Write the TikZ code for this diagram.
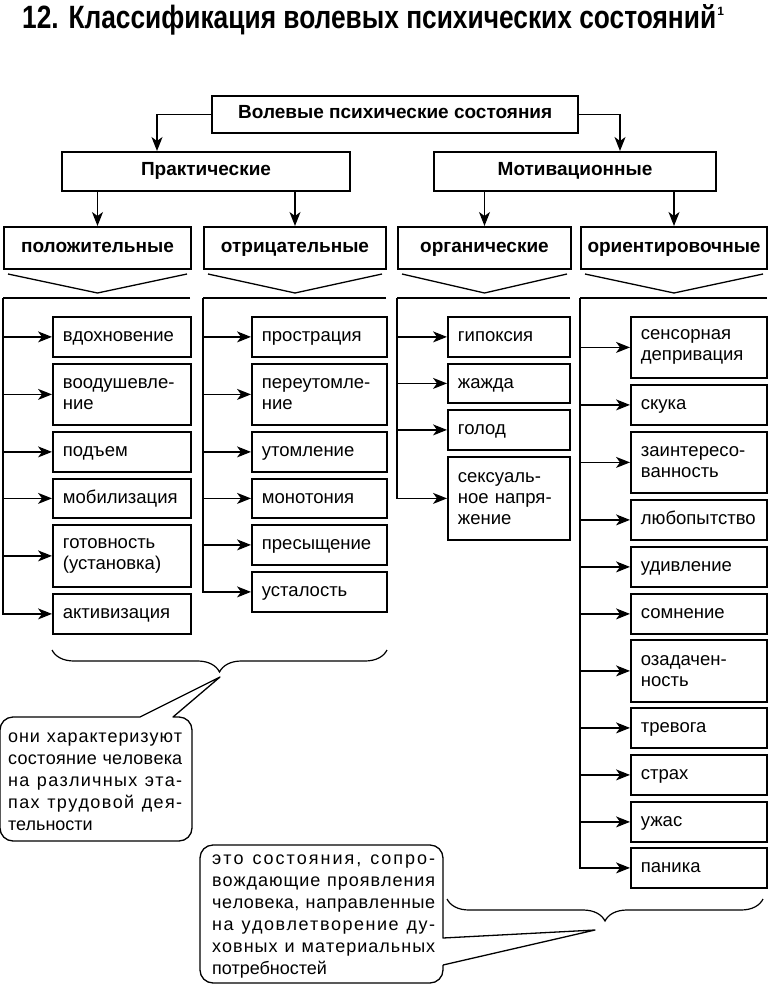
\documentclass[tikz,border=0pt]{standalone}
\usepackage{fontspec}
\setmainfont{Liberation Sans}
\usepackage{graphicx}
\usetikzlibrary{arrows.meta,calc,decorations.pathreplacing}
\newcommand{\itmfont}{\fontsize{18.5}{21}\selectfont}
\newcommand{\hdfont}{\bfseries\fontsize{19}{21}\selectfont}
% letter-spaced justified line
\newcommand{\lsp}[2]{\makebox[#1][s]{\lspfirst#2\relax}}
\def\lspfirst#1{#1\lsprest}
\def\lsprest#1{\ifx#1\relax\else\hskip 0pt plus 1fil\relax #1\expandafter\lsprest\fi}
\begin{document}
\begin{tikzpicture}[x=1pt,y=-1pt,
  hd/.style={draw, line width=2pt, anchor=north west, inner sep=0pt, font=\hdfont, text height=12pt, text depth=3.6pt},
  itm/.style={draw, line width=1.8pt, anchor=north west, inner xsep=10pt, inner ysep=0pt, align=left, font=\itmfont, minimum height=40pt},
  sl/.style={text height=12.5pt, text depth=3pt},
  ca/.style={itm, text width=118pt},
  cb/.style={itm, text width=115pt},
  cc/.style={itm, text width=102pt},
  cd/.style={itm, text width=116pt},
  conn/.style={line width=1.3pt},
  arr/.style={conn, -{Stealth[length=14pt,width=11pt,inset=4pt]}},
  chev/.style={line width=1.3pt},
  brc/.style={decorate, decoration={brace, amplitude=22pt, mirror}, line width=1.2pt},
  bubble/.style={line width=1.3pt, line join=round},
  ctext/.style={anchor=north west, inner sep=0pt, align=left, font=\fontsize{18}{22}\selectfont}
]
\useasboundingbox (0,0) rectangle (768,987);

% title
\node[anchor=base west, inner sep=0pt] (title) at (22,29)
  {\resizebox{694pt}{24pt}{\bfseries 12. Классификация волевых психических состояний}\hspace{1pt}\raisebox{13pt}{\bfseries\fontsize{12}{12}\selectfont 1}};

% headers
\node[hd, minimum width=366pt, minimum height=37pt, line width=2.4pt] (top) at (211,95) {Волевые психические состояния};
\node[hd, minimum width=288pt, minimum height=39pt] (prakt) at (61,151) {Практические};
\node[hd, minimum width=282pt, minimum height=39pt] (motiv) at (433,151) {Мотивационные};
\node[hd, minimum width=187pt, minimum height=42pt] (pos) at (3,226) {положительные};
\node[hd, minimum width=182pt, minimum height=42pt] (neg) at (203,226) {отрицательные};
\node[hd, minimum width=173pt, minimum height=42pt] (org) at (397,226) {органические};
\node[hd, minimum width=186pt, minimum height=42pt] (ori) at (580,226) {ориентировочные};

\coordinate (lA) at (157,151);
\coordinate (rA) at (620,151);
\draw[arr] (top.west) -| (lA);
\draw[arr] (top.east) -| (rA);
\draw[arr] (prakt.south -| pos.north) -- (pos.north);
\draw[arr] (prakt.south -| neg.north) -- (neg.north);
\draw[arr] (motiv.south -| org.north) -- (org.north);
\draw[arr] (motiv.south -| ori.north) -- (ori.north);

\foreach \n in {pos,neg,org,ori}
  \draw[chev] ($(\n.south west)+(5,4)$) -- ($(\n.south)+(0,23)$) -- ($(\n.south east)+(-5,4)$);

% column 1
\node[ca, sl] (a1) at (52,316) {вдохновение};
\node[ca, minimum height=61pt] (a2) at (52,363) {воодушевле-\\ние};
\node[ca, sl] (a3) at (52,431) {подъем};
\node[ca, sl, minimum height=39pt] (a4) at (52,478) {мобилизация};
\node[ca, minimum height=62pt] (a5) at (52,524) {готовность\\(установка)};
\node[ca, sl] (a6) at (52,593) {активизация};
% column 2
\node[cb, sl] (b1) at (251,316) {прострация};
\node[cb, minimum height=61pt] (b2) at (251,363) {переутомле-\\ние};
\node[cb, sl] (b3) at (251,431) {утомление};
\node[cb, sl, minimum height=39pt] (b4) at (251,478) {монотония};
\node[cb, sl] (b5) at (251,524) {пресыщение};
\node[cb, sl] (b6) at (251,571) {усталость};
% column 3
\node[cc, sl] (c1) at (447,316) {гипоксия};
\node[cc, sl, minimum height=39pt] (c2) at (447,363) {жажда};
\node[cc, sl] (c3) at (447,409) {голод};
\node[cc, minimum height=83pt] (c4) at (447,456) {сексуаль-\\ное напря-\\жение};
% column 4
\node[cd, minimum height=61pt] (d1) at (630,316) {сенсорная\\депривация};
\node[cd, sl] (d2) at (630,384) {скука};
\node[cd, minimum height=61pt] (d3) at (630,431) {заинтересо-\\ванность};
\node[cd, sl] (d4) at (630,499) {любопытство};
\node[cd, sl] (d5) at (630,546) {удивление};
\node[cd, sl] (d6) at (630,593) {сомнение};
\node[cd, minimum height=62pt] (d7) at (630,639) {озадачен-\\ность};
\node[cd, sl] (d8) at (630,707) {тревога};
\node[cd, sl] (d9) at (630,754) {страх};
\node[cd, sl] (d10) at (630,801) {ужас};
\node[cd, sl] (d11) at (630,847) {паника};

% column trunks
\coordinate (pl) at (3,298);   \coordinate (pr) at (190,298);
\coordinate (nl) at (203,298); \coordinate (nr) at (386,298);
\coordinate (ol) at (397,298); \coordinate (or) at (570,298);
\coordinate (ql) at (580,298); \coordinate (qr) at (767,298);
\draw[conn] (pr) -- (pl);
\draw[conn] (nr) -- (nl);
\draw[conn] (or) -- (ol);
\draw[conn] (qr) -- (ql);
\foreach \i in {a1,a2,a3,a4,a5,a6} \draw[arr] (pl) |- (\i.west);
\foreach \i in {b1,b2,b3,b4,b5,b6} \draw[arr] (nl) |- (\i.west);
\foreach \i in {c1,c2,c3,c4} \draw[arr] (ol) |- (\i.west);
\foreach \i in {d1,d2,d3,d4,d5,d6,d7,d8,d9,d10,d11} \draw[arr] (ql) |- (\i.west);

% braces
\coordinate (br1a) at (52,650); \coordinate (br1b) at (387,650);
\draw[brc] (br1a) -- (br1b);
\coordinate (br2a) at (447,899); \coordinate (br2b) at (763,899);
\draw[brc] (br2a) -- (br2b);

% callout 1
\draw[bubble] (140,717) [sharp corners]-- (220,677) -- (173,717) [rounded corners=13pt]-- (192,717) -- (192,841) -- (0,841) -- (0,717) -- (140,717);
\node[ctext] (t1) at (8,727) {\rule{0pt}{15pt}\lsp{174pt}{они~характеризуют}\\
\lsp{174pt}{состояние~человека}\\
\lsp{174pt}{на~различных~эта-}\\
\lsp{174pt}{пах~трудовой~дея-}\\
тельности};

% callout 2
\draw[bubble] (443,965) [sharp corners]-- (595,930) -- (443,938) [rounded corners=13pt]-- (443,845) -- (200,845) -- (200,983) -- (443,983) -- (443,965);
\node[ctext] (t2) at (212,849) {\rule{0pt}{15pt}\lsp{223pt}{это~состояния,~сопро-}\\
\lsp{223pt}{вождающие~проявления}\\
\lsp{223pt}{человека,~направленные}\\
\lsp{223pt}{на~удовлетворение~ду-}\\
\lsp{223pt}{ховных~и~материальных}\\
потребностей};
\end{tikzpicture}
\end{document}
